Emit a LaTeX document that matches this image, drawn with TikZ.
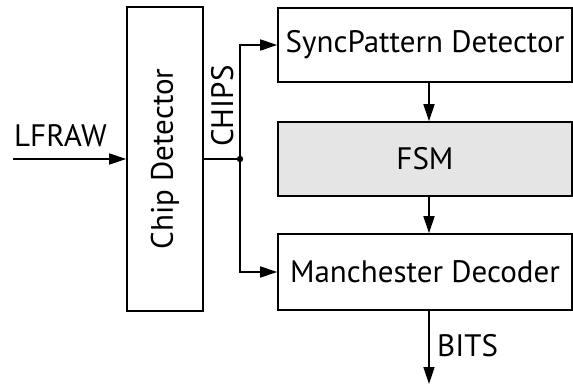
\documentclass[tikz,border=0pt]{standalone}
\usepackage{fontspec}
\setmainfont{PT Sans}
\usetikzlibrary{arrows.meta}
\begin{document}
\begin{tikzpicture}[x=1pt,y=-1pt,
  block/.style={draw, line width=1.6pt, rectangle, inner sep=0pt, font=\fontsize{31}{34}\selectfont},
  arr/.style={line width=1.6pt, -{Triangle[length=17pt,width=11pt]}},
  wire/.style={line width=1.6pt},
  lbl/.style={font=\fontsize{31}{34}\selectfont, inner sep=0pt}]
\useasboundingbox (0,0) rectangle (573,387);
% blocks
\node[block, minimum width=76pt, minimum height=304pt] (chip) at (165,159) {};
\node[rotate=90, font=\fontsize{31}{34}\selectfont] at (chip.center) {Chip Detector};
\node[block, minimum width=294pt, minimum height=74pt] (sync) at (425,45) {SyncPattern Detector};
\node[block, fill=black!10, minimum width=294pt, minimum height=74pt] (fsm) at (425,159) {FSM};
\node[block, minimum width=294pt, minimum height=76pt] (man) at (425,272) {Manchester Decoder};
% input and outputs
\coordinate (in) at (13,159);
\coordinate (split) at (240,159);
\coordinate (out) at (429,384);
\draw[arr] (in) -- (chip.west);
\node[lbl, anchor=base west] at (14,147) {LFRAW};
\draw[wire] (chip.east |- split) -- (split);
\fill (split) circle (3.2pt);
\draw[arr] (split) |- (sync.west);
\draw[arr] (split) |- (man.west);
\node[lbl, rotate=90, anchor=base west] at (233,147) {CHIPS};
\draw[arr] (sync.south -| out) -- (fsm.north -| out);
\draw[arr] (fsm.south -| out) -- (man.north -| out);
\draw[arr] (man.south -| out) -- (out);
\node[lbl, anchor=base west] at (437,356) {BITS};
\end{tikzpicture}
\end{document}
